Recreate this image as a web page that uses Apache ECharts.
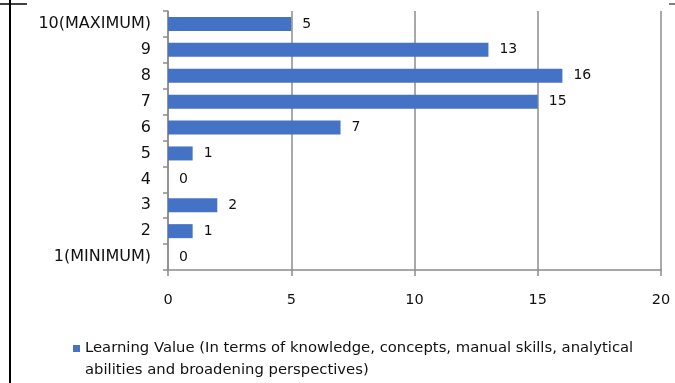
<!DOCTYPE html>
<html><head><meta charset="utf-8">
<script src="https://cdn.jsdelivr.net/npm/echarts@6/dist/echarts.min.js"></script>
<style>html,body{margin:0;padding:0;background:#fff}#c{width:675px;height:383px}</style>
</head><body><div id="c"></div>
<script>
const categories = ["1(MINIMUM)","2","3","4","5","6","7","8","9","10(MAXIMUM)"];
const values = [0,1,2,0,1,7,15,16,13,5];
const xTicks = {min:0, max:20, interval:5};
const seriesName = "Learning Value (In terms of knowledge, concepts, manual skills, analytical\nabilities and broadening perspectives)";
const nameLines = seriesName.split('\n');

const chart = echarts.init(document.getElementById('c'), null, {renderer:'canvas'});
const font = "DejaVu Sans";
const txt = '#111';
chart.setOption({
  animation:false,
  textStyle:{fontFamily:font},
  grid:{left:168, right:14, top:11, bottom:113, containLabel:false},
  xAxis:{type:'value', min:xTicks.min, max:xTicks.max, interval:xTicks.interval,
    axisLine:{show:true, lineStyle:{color:'#8c8c8c', width:1.5}},
    axisTick:{show:true, length:6, lineStyle:{color:'#8c8c8c', width:1.5}},
    axisLabel:{margin:23, fontSize:14.5, color:txt, fontFamily:font},
    splitLine:{show:true, lineStyle:{color:'#8c8c8c', width:1.5}}},
  yAxis:{type:'category', data:categories,
    axisLine:{show:true, lineStyle:{color:'#8c8c8c', width:1.5}},
    axisTick:{show:true, length:5, lineStyle:{color:'#8c8c8c', width:1.5}},
    axisLabel:{margin:17, fontSize:16, color:txt, fontFamily:font}},
  legend:{left:73, top:341, padding:0, itemWidth:7, itemHeight:7, icon:'rect', itemGap:6,
    textStyle:{fontSize:14.8, color:txt, fontFamily:font},
    formatter:function(n){return n.split('\n')[0];},
    data:[seriesName]},
  series:[{name:seriesName, type:'bar', data:values, barWidth:14,
    itemStyle:{color:'#4472C4'},
    label:{show:true, position:'right', distance:11, fontSize:14, color:txt, fontFamily:font}}],
  graphic:[
    {type:'text', x:85, y:370, style:{text:nameLines[1], font:'14.8px "DejaVu Sans"', fill:txt, verticalAlign:'middle', textVerticalAlign:'middle'}},
    {type:'line', shape:{x1:10, y1:0, x2:10, y2:383}, style:{stroke:'#000', lineWidth:2}},
    {type:'line', shape:{x1:0, y1:4, x2:27, y2:4}, style:{stroke:'#000', lineWidth:1.5}},
    {type:'line', shape:{x1:669, y1:4, x2:675, y2:4}, style:{stroke:'#000', lineWidth:1}}
  ]
});
</script></body></html>
